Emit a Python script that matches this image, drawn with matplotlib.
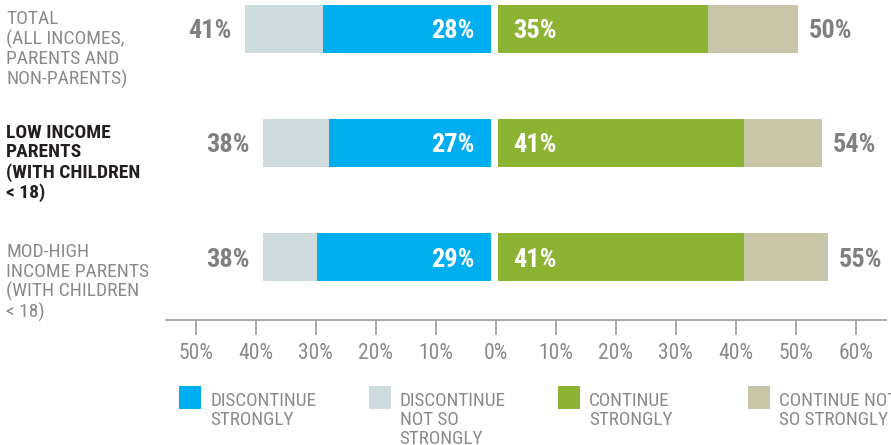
import matplotlib
matplotlib.use("Agg")
import matplotlib.pyplot as plt
from matplotlib import font_manager
from matplotlib.patches import Rectangle

# data
categories = ["TOTAL\n(ALL INCOMES,\nPARENTS AND\nNON-PARENTS)",
              "LOW INCOME\nPARENTS\n(WITH CHILDREN\n< 18)",
              "MOD-HIGH\nINCOME PARENTS\n(WITH CHILDREN\n< 18)"]
highlight = [False, True, False]
disc_strong = [28, 27, 29]
disc_total = [41, 38, 38]
cont_strong = [35, 41, 41]
cont_total = [50, 54, 55]
tick_vals = [-50, -40, -30, -20, -10, 0, 10, 20, 30, 40, 50, 60]
tick_labels = ["50%", "40%", "30%", "20%", "10%", "0%",
               "10%", "20%", "30%", "40%", "50%", "60%"]
legend_labels = ["DISCONTINUE\nSTRONGLY", "DISCONTINUE\nNOT SO\nSTRONGLY",
                 "CONTINUE\nSTRONGLY", "CONTINUE NOT\nSO STRONGLY"]

BLUE = "#00AEEF"
LIGHT = "#CFDCDD"
GREEN = "#8DB332"
TAN = "#C8C6A8"
legend_colors = [BLUE, LIGHT, GREEN, TAN]
GREY_TXT = "#8A8A8D"
VAL_TXT = "#808083"

# pick a condensed face if there is one
names = {f.name for f in font_manager.fontManager.ttflist}
FONT = "Liberation Sans"
for cand in ["Liberation Sans Narrow", "Roboto Condensed", "Open Sans Condensed"]:
    if cand in names:
        FONT = cand
        break
plt.rcParams["font.family"] = [FONT, "DejaVu Sans"]

W, H = 891, 445
GAP_L = 0.75   # gap left of zero (data units)
GAP_R = 0.35
BAR_H = 0.418

fig = plt.figure(figsize=(W / 100, H / 100), dpi=100)
ax = fig.add_axes([166 / W, 1 - 320 / H, 720 / W, 320 / H])

rows = list(range(len(categories)))
dn = [t - s for t, s in zip(disc_total, disc_strong)]
cn = [t - s for t, s in zip(cont_total, cont_strong)]

ax.barh(rows, dn, left=[-GAP_L - t for t in disc_total], height=BAR_H, color=LIGHT)
ax.barh(rows, disc_strong, left=[-GAP_L - s for s in disc_strong], height=BAR_H, color=BLUE)
ax.barh(rows, cont_strong, left=GAP_R, height=BAR_H, color=GREEN)
ax.barh(rows, cn, left=[GAP_R + s for s in cont_strong], height=BAR_H, color=TAN)

px = 0.72  # points per pixel
for i in rows:
    kw = dict(xycoords="data", textcoords="offset points", va="center",
              fontsize=19, fontweight="bold", annotation_clip=False)
    ax.annotate(f"{disc_total[i]}%", (-GAP_L - disc_total[i], i), xytext=(-14 * px, -2.5 * px),
                ha="right", color=VAL_TXT, **kw)
    ax.annotate(f"{disc_strong[i]}%", (-GAP_L, i), xytext=(-17 * px, -2.5 * px),
                ha="right", color="white", **kw)
    ax.annotate(f"{cont_strong[i]}%", (GAP_R, i), xytext=(15 * px, -2.5 * px),
                ha="left", color="white", **kw)
    ax.annotate(f"{cont_total[i]}%", (GAP_R + cont_total[i], i), xytext=(11 * px, -2.5 * px),
                ha="left", color=VAL_TXT, **kw)

# category labels on the far left
drop_px = [5, 5, 10]
for i, lab in enumerate(categories):
    ax.annotate(lab, (6 / W, i - BAR_H / 2), xycoords=("figure fraction", "data"),
                xytext=(0, -drop_px[i] * px), textcoords="offset points",
                ha="left", va="top", fontsize=14, linespacing=1.1,
                fontweight="bold" if highlight[i] else "normal",
                color="#231F20" if highlight[i] else GREY_TXT,
                annotation_clip=False)

ax.set_xlim(-54.95, 65.05)
ax.set_ylim(2.552, -0.252)
ax.set_yticks([])
ax.set_xticks(tick_vals)
ax.set_xticklabels(tick_labels)
for s in ["top", "left", "right"]:
    ax.spines[s].set_visible(False)
ax.spines["bottom"].set_color("#9A9A9C")
ax.spines["bottom"].set_linewidth(1.2)
ax.tick_params(axis="x", direction="out", length=15 * px, width=1.2, color="#9A9A9C",
               labelsize=15.5, labelcolor=GREY_TXT, pad=6)
ax.patch.set_visible(False)

# legend, drawn by hand
for k, (lab, col) in enumerate(zip(legend_labels, legend_colors)):
    x0 = 179 + 189.6 * k
    fig.add_artist(Rectangle((x0 / W, 1 - 408.7 / H), 22 / W, 22.7 / H,
                             transform=fig.transFigure, color=col, lw=0))
    fig.text((x0 + 31) / W, 1 - 391.5 / H, lab, ha="left", va="top",
             fontsize=13.8, linespacing=1.08, color=GREY_TXT)

fig.savefig("out.png", dpi=100)
